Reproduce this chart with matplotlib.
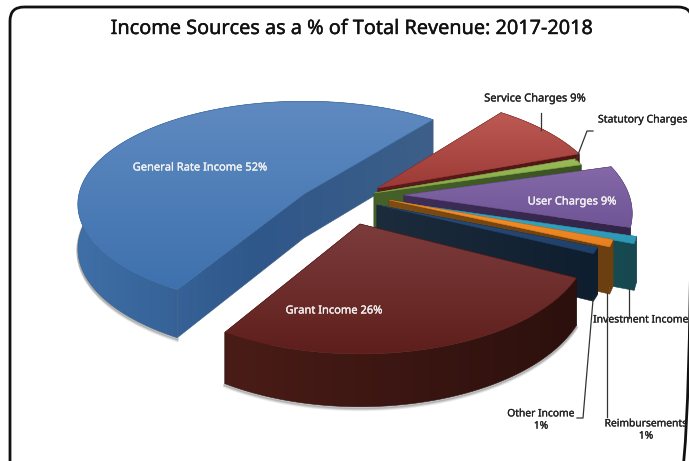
import numpy as np
import matplotlib
matplotlib.use("Agg")
import matplotlib.pyplot as plt
import matplotlib.patheffects as pe
from matplotlib.colors import LinearSegmentedColormap
from matplotlib.patches import Polygon, FancyBboxPatch

# =========================
# DATA
# =========================
title = "Income Sources as a % of Total Revenue: 2017-2018"
names = ["Service Charges", "Statutory Charges", "User Charges", "Investment Income",
         "Reimbursements", "Other Income", "Grant Income", "General Rate Income"]
values = [9, 1, 9, 1, 1, 1, 26, 52]

# =========================
# STYLE / LAYOUT (image pixels)
# =========================
W, H = 689, 461
START = 38.2          # angle of first slice, clockwise from the far side
RX = 225
DEPTH = 44

# where each slice's tip lands, after the explosion
apex = [(378, 188), (374, 193), (404, 195), (410, 204),
        (389, 200), (377, 205), (360, 224), (304, 194)]
scale_y = [1, 1, 1, 1, 1, 0.9, 1, 1]
ry = [108.4] * 7 + [102]
persp = [0.166] * 7 + [0.10]

top_cols = [("#bd5a54", "#9c3a36"), ("#9abb58", "#84a746"), ("#8468a8", "#6f5596"),
            ("#3aa9c6", "#2c97b4"), ("#f5962e", "#e87f1e"), ("#2a4d78", "#1f4068"),
            ("#7c3c3c", "#5e1f1c"), ("#5f8ac0", "#3e71ae")]
wall_cols = [("#5c1c1c", "#4e1515"), ("#46622a", "#3a5220"), ("#3e2e58", "#332448"),
             ("#1d5a62", "#17484f"), ("#7e4c14", "#6b3f10"), ("#1c2c3d", "#0e1e2f"),
             ("#4a1c17", "#2c100d"), ("#3e6fa6", "#2f578a", "#3d5f88")]
# painter's order: back to front
draw_order = [7, 0, 1, 2, 3, 4, 5, 6]

plt.rcParams["font.family"] = ["Noto Sans", "DejaVu Sans"]


def project(t_deg, i):
    t = np.radians(t_deg)
    u, v = np.sin(t), np.cos(t)
    w = 1 + persp[i] * v
    x = apex[i][0] + RX * u / w
    y = apex[i][1] - ry[i] * v / w * scale_y[i]
    return x, y, DEPTH / w


def grad_fill(ax, pts, cols, z, horizontal=False, extent=None):
    pts = np.asarray(pts)
    x0, x1 = pts[:, 0].min(), pts[:, 0].max()
    y0, y1 = pts[:, 1].min(), pts[:, 1].max()
    if extent is not None:
        x0, x1 = extent
    cmap = LinearSegmentedColormap.from_list("g", list(cols))
    ramp = np.linspace(0, 1, 128)
    ramp = ramp[None, :] if horizontal else ramp[:, None]
    im = ax.imshow(ramp, cmap=cmap, extent=(x0, x1, y1, y0), origin="upper",
                   aspect="auto", zorder=z, interpolation="bilinear")
    patch = Polygon(pts, closed=True, fc="none", ec="none", zorder=z)
    ax.add_patch(patch)
    im.set_clip_path(patch)
    # thin edge hides the jagged clip
    ax.add_patch(Polygon(pts, closed=True, fc="none", ec=cols[-1], lw=0.4, zorder=z + 0.1))


fig = plt.figure(figsize=(W / 100, H / 100), dpi=100)
ax = fig.add_axes([0, 0, 1, 1])

ends = np.cumsum(values) / sum(values) * 360 + START
starts = ends - np.array(values) / sum(values) * 360

z = 2
for i in draw_order:
    ts = np.linspace(starts[i], ends[i], max(8, int(values[i] * 4)))
    xs, ys, ds = zip(*[project(t, i) for t in ts])
    xs, ys, ds = np.array(xs), np.array(ys), np.array(ds)
    ax_, ay_ = apex[i]
    arc_top = np.column_stack([xs, ys])
    arc_bot = np.column_stack([xs, ys + ds])
    wall_span = (min(xs.min(), ax_), max(xs.max(), ax_))

    # soft shadow under the two big slices
    if values[i] > 20:
        for off, a in ((3, 0.12), (2, 0.18), (1, 0.25)):
            ax.plot(xs, ys + ds + off, color="#555555", alpha=a, lw=2, zorder=z)
        z += 1

    # side walls, then rim, then the top face
    for k in (0, -1):
        grad_fill(ax, [(ax_, ay_), (xs[k], ys[k]), (xs[k], ys[k] + ds[k]), (ax_, ay_ + DEPTH)],
                  wall_cols[i], z, horizontal=True, extent=wall_span)
        z += 1
    grad_fill(ax, np.vstack([arc_top, arc_bot[::-1]]), wall_cols[i], z, horizontal=True, extent=wall_span)
    z += 1
    grad_fill(ax, np.vstack([[(ax_, ay_)], arc_top]), top_cols[i], z)
    z += 1

# frame around the chart, runs off the right and bottom of the picture
frame = FancyBboxPatch((10, 7), 682, 480, boxstyle="round,pad=0,rounding_size=14",
                       fc="none", ec="#111111", lw=2.0, zorder=z)
ax.add_patch(frame)
z += 1

ax.text(352, 29, title, ha="center", va="center", fontsize=14.3, color="#111111", zorder=z,
        path_effects=[pe.withStroke(linewidth=0.3, foreground="#111111")])

# labels on slices
for s, (x, y) in zip([f"{names[7]} {values[7]}%", f"{names[6]} {values[6]}%", f"{names[2]} {values[2]}%"],
                     [(200, 168), (334, 311), (572, 202)]):
    ax.text(x, y, s, ha="center", va="center", color="#f2f2f2", fontsize=8, zorder=z,
            path_effects=[pe.withStroke(linewidth=0.2, foreground="#f2f2f2")])

# labels outside
outside = [(f"{names[0]} {values[0]}%", 535, 99, 8), (names[1], 643, 120, 7.6), (names[3], 641, 320, 7.5),
           (f"{names[5]}\n{values[5]}%", 541, 420, 7.4), (f"{names[4]}\n{values[4]}%", 646, 430, 7.4)]
for s, x, y, fs in outside:
    ax.text(x, y, s, ha="center", va="center", color="#222222", fontsize=fs,
            linespacing=1.15, zorder=z, clip_on=True,
            path_effects=[pe.withStroke(linewidth=0.2, foreground="#222222")])

# leader lines
leaders = [([541, 541], [113, 130]),
           ([576, 587, 593], [160, 131, 131]),
           ([629, 629], [288, 318]),
           ([607, 607], [293, 417]),
           ([593, 583, 577], [300, 418, 418])]
for lx, ly in leaders:
    ax.plot(lx, ly, color="#333333", lw=0.9, zorder=z)

ax.set_xlim(0, W)
ax.set_ylim(H, 0)
ax.axis("off")
fig.savefig("out.png", dpi=100)
